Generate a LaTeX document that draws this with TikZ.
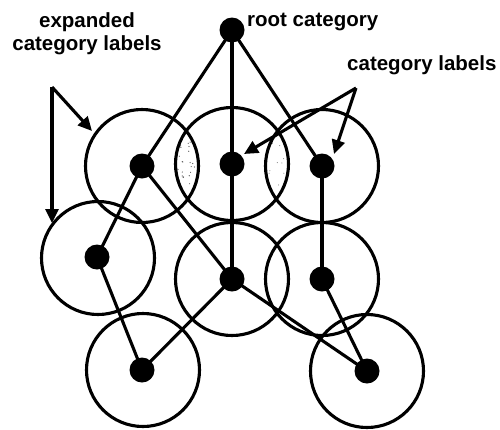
\documentclass[tikz,border=0pt]{standalone}
\usepackage{fontspec}
\setmainfont{Liberation Sans}
\usetikzlibrary{arrows.meta}
\begin{document}
\begin{tikzpicture}[x=1pt,y=-1pt,
  ring/.style={circle,draw,line width=3.1pt,minimum size=113pt,inner sep=0pt},
  dot/.style={circle,fill,minimum size=25pt,inner sep=0pt},
  link/.style={line width=3.1pt},
  pointer/.style={line width=3.1pt,-{Triangle[length=14pt,width=13pt]}},
  caption/.style={font=\bfseries\fontsize{20.5}{23}\selectfont,inner sep=0pt}]
\useasboundingbox (0,0) rectangle (500,429);

% stippled overlaps between neighbouring rings of the top row
\pgfmathsetseed{11}
\begin{scope}
  \clip (142,166) circle (56.5pt);
  \clip (232,164) circle (56.5pt);
  \foreach \i in {1,...,34} {
    \pgfmathsetmacro\px{175+24*rnd}
    \pgfmathsetmacro\py{130+68*rnd}
    \fill[black!70] (\px,\py) circle (0.6pt);
  }
\end{scope}
\begin{scope}
  \clip (232,164) circle (56.5pt);
  \clip (322,166) circle (56.5pt);
  \foreach \i in {1,...,16} {
    \pgfmathsetmacro\px{265+24*rnd}
    \pgfmathsetmacro\py{130+68*rnd}
    \fill[black!60] (\px,\py) circle (0.5pt);
  }
\end{scope}

% rings
\node[ring] (ringA) at (142,166) {};
\node[ring] (ringB) at (232,164) {};
\node[ring] (ringC) at (322,166) {};
\node[ring] (ringD) at (98,258) {};
\node[ring] (ringE) at (232,279) {};
\node[ring] (ringF) at (322,279) {};
\node[ring] (ringG) at (143,370) {};
\node[ring] (ringH) at (367,371) {};

% category dots
\node[dot] (root) at (232,30) {};
\node[dot] (A) at (142,166) {};
\node[dot] (B) at (232,164) {};
\node[dot] (C) at (322,166) {};
\node[dot] (D) at (97,257) {};
\node[dot] (E) at (232,279) {};
\node[dot] (F) at (322,279) {};
\node[dot] (G) at (142,370) {};
\node[dot] (H) at (367,371) {};

% hierarchy links
\draw[link] (root.center) -- (A.center);
\draw[link] (root.center) -- (B.center);
\draw[link] (root.center) -- (C.center);
\draw[link] (A.center) -- (D.center);
\draw[link] (A.center) -- (E.center);
\draw[link] (B.center) -- (E.center);
\draw[link] (C.center) -- (F.center);
\draw[link] (D.center) -- (G.center);
\draw[link] (E.center) -- (G.center);
\draw[link] (E.center) -- (H.center);
\draw[link] (F.center) -- (H.center);

% captions
\node[caption,anchor=base west] (rootlbl) at (247,26) {root category};
\node[caption,anchor=base west] (catlbl) at (347,70) {category labels};
\node[caption,align=center,anchor=base] (explbl) at (87,50) {expanded\\category labels};

% pointers
\coordinate (expfork) at (52,87);
\coordinate (catfork) at (356,88);
\coordinate (tipA) at (92,131);
\coordinate (tipD) at (52,223);
\coordinate (tipB) at (244,154);
\coordinate (tipC) at (334,154);
\draw[pointer] (expfork) -- (tipA);
\draw[pointer] (expfork) -- (tipD);
\draw[pointer] (catfork) -- (tipB);
\draw[pointer] (catfork) -- (tipC);
\end{tikzpicture}
\end{document}
